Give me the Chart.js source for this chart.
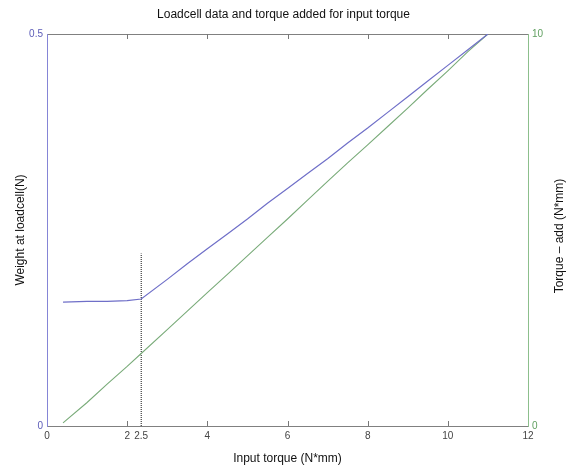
<!DOCTYPE html>
<html>
<head>
<meta charset="utf-8">
<script src="https://cdn.jsdelivr.net/npm/chart.js@4.4.0/dist/chart.umd.min.js"></script>
<style>
  body { margin: 0; background: #fff; }
  canvas { display: block; }
</style>
</head>
<body>
<canvas id="loadcellChart" width="567" height="468"></canvas>
<script>
// input torque (N*mm)
const inputTorque = [0.4, 1, 1.5, 2, 2.35, 3, 3.5, 4, 4.5, 5, 5.5, 6, 6.5, 7, 7.5, 8, 8.5, 9, 9.5, 10, 10.5, 11];
// weight at loadcell (N), left axis
const loadcellWeight = [0.158, 0.159, 0.159, 0.160, 0.162, 0.187, 0.207, 0.226, 0.245, 0.264, 0.284, 0.303, 0.322, 0.341, 0.361, 0.380, 0.400, 0.420, 0.440, 0.460, 0.480, 0.500];
// torque added (N*mm), right axis
const torqueAdd = [0.08, 0.60, 1.07, 1.52, 1.85, 2.46, 2.93, 3.40, 3.87, 4.34, 4.81, 5.28, 5.76, 6.24, 6.71, 7.17, 7.64, 8.11, 8.59, 9.06, 9.55, 10.0];
// dotted marker (labelled 2.5 on the axis)
const markerX = [2.35, 2.35];
const markerY = [0, 0.22];

const xTicks = [0, 2, 2.35, 4, 6, 8, 10, 12];
const xTickLabels = ["0", "2", "2.5", "4", "6", "8", "10", "12"];
const innerTicks = [2, 4, 6, 8, 10];
const leftTicks = [0, 0.5];
const rightTicks = [0, 10];

const fontFamily = "'Liberation Sans', Arial, sans-serif";

const toPoints = (xs, ys) => xs.map((x, i) => ({ x: x, y: ys[i] }));

// inward tick marks on bottom/top axes + right axis title (reads bottom to top)
const axisExtras = {
  id: "axisExtras",
  afterDraw(chart) {
    const ctx = chart.ctx;
    const area = chart.chartArea;
    const xScale = chart.scales.x;
    ctx.save();
    ctx.strokeStyle = "#777";
    ctx.lineWidth = 1;
    innerTicks.forEach((v) => {
      const px = Math.round(xScale.getPixelForValue(v)) + 0.5;
      ctx.beginPath();
      ctx.moveTo(px, area.bottom);
      ctx.lineTo(px, area.bottom - 5);
      ctx.moveTo(px, area.top);
      ctx.lineTo(px, area.top + 5);
      ctx.stroke();
    });
    ctx.translate(560, (area.top + area.bottom) / 2 + 6);
    ctx.rotate(-Math.PI / 2);
    ctx.fillStyle = "#111";
    ctx.font = "12px " + fontFamily;
    ctx.textAlign = "center";
    ctx.textBaseline = "middle";
    ctx.fillText("Torque \u2013 add (N*mm)", 0, 0);
    ctx.restore();
  },
};

const ctx = document.querySelector("#loadcellChart").getContext("2d");

const loadcellChart = new Chart(ctx, {
  type: "line",
  data: {
    datasets: [
      {
        label: "Weight at loadcell",
        data: toPoints(inputTorque, loadcellWeight),
        borderColor: "#6f6fc8",
        borderWidth: 1.2,
        pointRadius: 0,
        yAxisID: "y",
      },
      {
        label: "Torque add",
        data: toPoints(inputTorque, torqueAdd),
        borderColor: "#79ab79",
        borderWidth: 1.1,
        pointRadius: 0,
        yAxisID: "y2",
      },
      {
        label: "marker",
        data: toPoints(markerX, markerY),
        borderColor: "#111",
        borderWidth: 1,
        borderDash: [1, 1],
        pointRadius: 0,
        yAxisID: "y",
      },
    ],
  },
  options: {
    responsive: false,
    animation: false,
    layout: { padding: 0 },
    plugins: {
      legend: { display: false },
      tooltip: { enabled: false },
      title: {
        display: true,
        text: "Loadcell data and torque added for input torque",
        color: "#111",
        font: { family: fontFamily, size: 12, weight: "normal" },
        padding: { top: 7, bottom: 12.6 },
      },
    },
    scales: {
      x: {
        type: "linear",
        position: "bottom",
        min: 0,
        max: 12,
        grid: { display: false, drawTicks: false },
        border: { color: "#808080" },
        afterBuildTicks: (s) => { s.ticks = xTicks.map((v) => ({ value: v })); },
        afterFit: (s) => { s.height = 42; },
        ticks: {
          autoSkip: false,
          maxRotation: 0,
          padding: 4,
          color: "#444",
          font: { family: fontFamily, size: 10 },
          callback: (v, i) => xTickLabels[i],
        },
        title: {
          display: true,
          text: "Input torque (N*mm)",
          color: "#111",
          font: { family: fontFamily, size: 12 },
          padding: { top: 0, bottom: 2 },
        },
      },
      x2: {
        type: "linear",
        position: "top",
        min: 0,
        max: 12,
        grid: { display: false, drawTicks: false },
        border: { color: "#808080" },
        ticks: { display: false },
        afterFit: (s) => { s.height = 0; },
      },
      y: {
        position: "left",
        min: 0,
        max: 0.5,
        grid: { display: false, drawTicks: false },
        border: { color: "#8585d6" },
        afterBuildTicks: (s) => { s.ticks = leftTicks.map((v) => ({ value: v })); },
        afterFit: (s) => { s.width = 47; },
        ticks: {
          padding: 4,
          color: "#5c5cb8",
          font: { family: fontFamily, size: 10 },
          callback: (v) => String(v),
        },
        title: {
          display: true,
          text: "Weight at loadcell(N)",
          color: "#111",
          font: { family: fontFamily, size: 12 },
          padding: { top: 13, bottom: 0 },
        },
      },
      y2: {
        position: "right",
        min: 0,
        max: 10,
        grid: { display: false, drawTicks: false },
        border: { color: "#8cbf8c" },
        afterBuildTicks: (s) => { s.ticks = rightTicks.map((v) => ({ value: v })); },
        afterFit: (s) => { s.width = 39; },
        ticks: {
          padding: 4,
          color: "#5f9f5f",
          font: { family: fontFamily, size: 10 },
          callback: (v) => String(v),
        },
      },
    },
  },
  plugins: [axisExtras],
});
</script>
</body>
</html>
